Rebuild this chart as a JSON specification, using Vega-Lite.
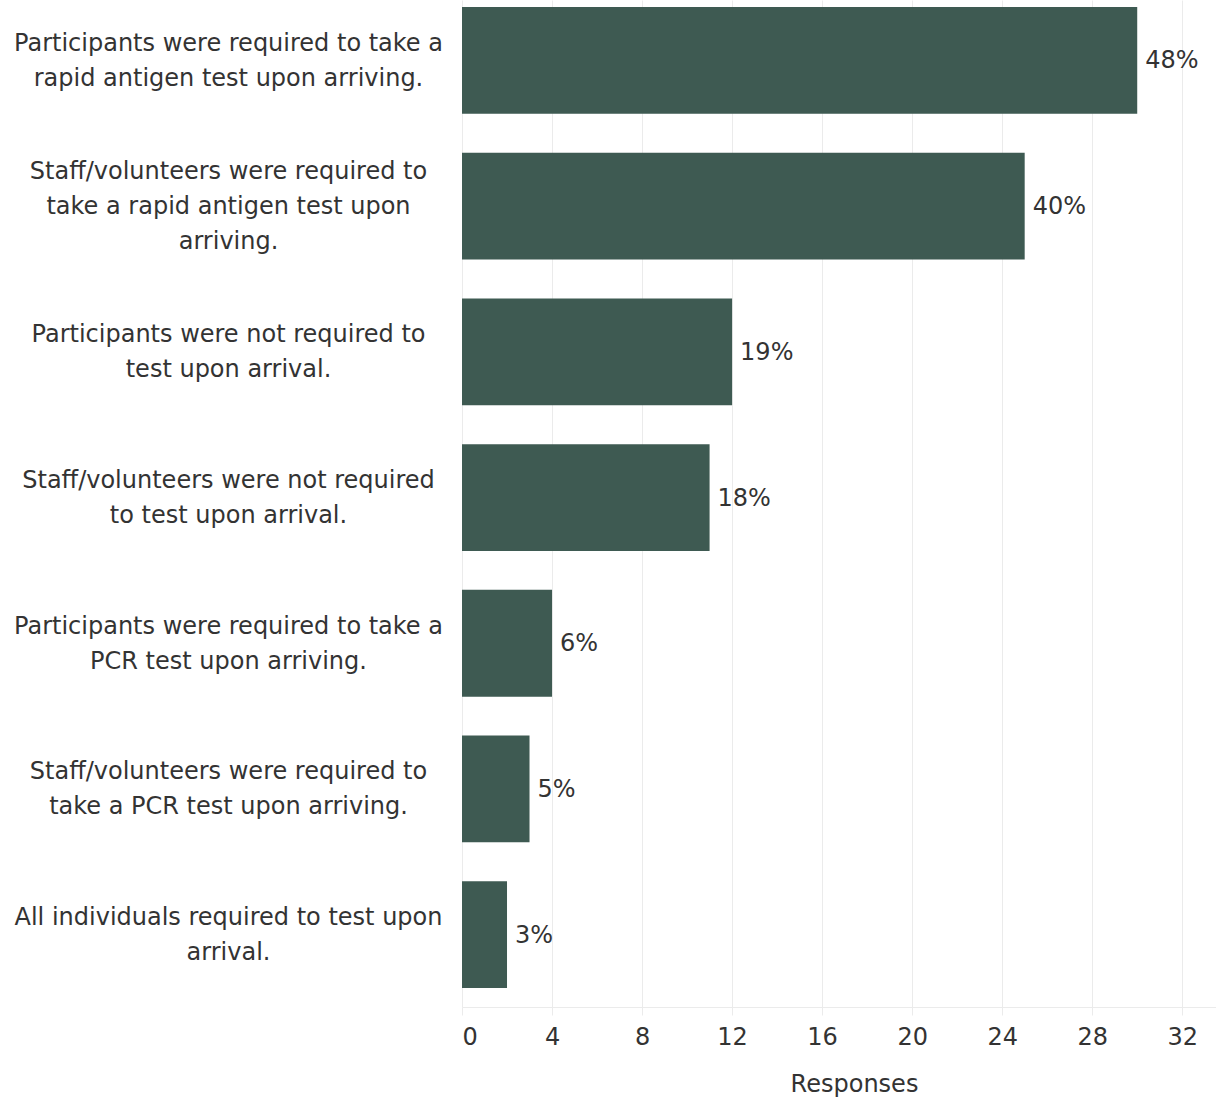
{
  "$schema": "https://vega.github.io/schema/vega-lite/v6.json",
  "autosize": {"type": "none"},
  "padding": {"left": 462, "top": 0, "right": 0, "bottom": 95},
  "width": 754,
  "height": 1007,
  "background": "white",
  "config": {
    "view": {"stroke": null},
    "font": "DejaVu Sans"
  },
  "data": {
    "values": [
      {"statement": "Participants were required to take a|rapid antigen test upon arriving.", "responses": 30, "pct": "48%"},
      {"statement": "Staff/volunteers were required to|take a rapid antigen test upon|arriving.", "responses": 25, "pct": "40%"},
      {"statement": "Participants were not required to|test upon arrival.", "responses": 12, "pct": "19%"},
      {"statement": "Staff/volunteers were not required|to test upon arrival.", "responses": 11, "pct": "18%"},
      {"statement": "Participants were required to take a|PCR test upon arriving.", "responses": 4, "pct": "6%"},
      {"statement": "Staff/volunteers were required to|take a PCR test upon arriving.", "responses": 3, "pct": "5%"},
      {"statement": "All individuals required to test upon|arrival.", "responses": 2, "pct": "3%"}
    ]
  },
  "encoding": {
    "y": {
      "field": "statement",
      "type": "nominal",
      "sort": null,
      "scale": {"paddingInner": 0.267, "paddingOuter": 0.089, "align": 0.27},
      "axis": {
        "title": null,
        "domain": false,
        "ticks": false,
        "labelExpr": "split(datum.value, '|')",
        "labelAlign": "center",
        "labelBaseline": "middle",
        "labelPadding": 234,
        "labelOffset": {"condition": {"test": "indexof(datum.value, 'rapid antigen test upon|') >= 0", "value": -34}, "value": -16.5},
        "labelFontSize": 24,
        "labelLineHeight": 35,
        "labelColor": "#333333",
        "labelLimit": 0
      }
    },
    "x": {
      "field": "responses",
      "type": "quantitative",
      "scale": {"domain": [0, 33.5], "nice": false},
      "axis": {
        "title": "Responses",
        "titleFontSize": 24,
        "titleColor": "#333333",
        "titleFontWeight": "normal",
        "titlePadding": 23,
        "titleX": 392,
        "values": [0, 4, 8, 12, 16, 20, 24, 28, 32],
        "labelFontSize": 24,
        "labelColor": "#333333",
        "labelPadding": 10,
        "labelFlush": true,
        "grid": true,
        "gridColor": "#ebebeb",
        "domainColor": "#ebebeb",
        "tickColor": "#ebebeb",
        "tickSize": 8
      }
    }
  },
  "layer": [
    {"mark": {"type": "bar", "color": "#3e5a52"}},
    {
      "mark": {"type": "text", "align": "left", "baseline": "middle", "dx": 8, "dy": 1, "fontSize": 24, "color": "#333333"},
      "encoding": {"text": {"field": "pct"}}
    }
  ]
}
